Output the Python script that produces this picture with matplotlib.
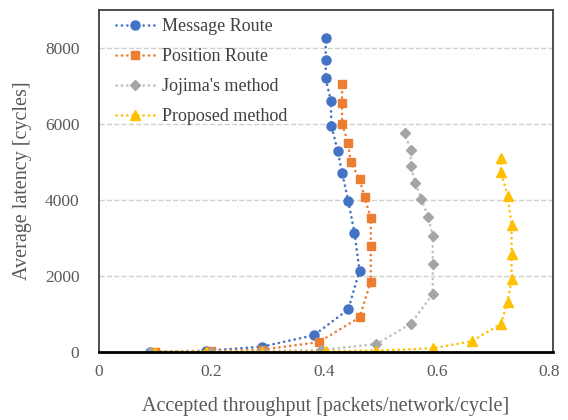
import numpy as np
import matplotlib.pyplot as plt

plt.rcParams['font.family'] = ['Liberation Serif', 'DejaVu Serif']

# accepted throughput [packets/network/cycle] and average latency [cycles]
msgX = [0.09, 0.19, 0.29, 0.382, 0.443, 0.463, 0.454, 0.443, 0.432, 0.424, 0.413, 0.412, 0.403, 0.403, 0.403]
msgY = [10, 30, 140, 440, 1120, 2140, 3140, 3970, 4720, 5300, 5960, 6610, 7200, 7690, 8260]

posX = [0.10, 0.20, 0.29, 0.391, 0.463, 0.483, 0.483, 0.483, 0.472, 0.463, 0.447, 0.443, 0.432, 0.432, 0.432]
posY = [10, 20, 60, 260, 910, 1850, 2790, 3520, 4070, 4550, 5010, 5490, 6000, 6560, 7050]

jojX = [0.09, 0.20, 0.29, 0.394, 0.493, 0.554, 0.593, 0.593, 0.593, 0.585, 0.573, 0.562, 0.554, 0.554, 0.543]
jojY = [10, 10, 20, 50, 210, 740, 1520, 2310, 3050, 3540, 4030, 4440, 4900, 5320, 5760]

propX = [0.10, 0.19, 0.29, 0.403, 0.493, 0.593, 0.662, 0.714, 0.726, 0.733, 0.733, 0.733, 0.726, 0.714, 0.714]
propY = [10, 10, 10, 20, 35, 97, 280, 737, 1324, 1913, 2571, 3342, 4106, 4746, 5098]

fig = plt.figure(figsize=(5.68, 4.2), dpi=100)
ax = fig.add_axes([0.174, 0.162, 0.8, 0.814])

dots = (0, (0.05, 2.0))
ax.plot(msgX, msgY, ls=dots, dash_capstyle='round', color='#4472C4', lw=1.9, marker='o', ms=6.5, label='Message Route')
ax.plot(posX, posY, ls=dots, dash_capstyle='round', color='#ED7D31', lw=1.9, marker='s', ms=6, label='Position Route')
ax.plot(jojX, jojY, ls=dots, dash_capstyle='round', color='#BEBEBE', lw=1.9, marker='D', ms=5,
        mfc='#A5A5A5', mec='#A5A5A5', label="Jojima's method")
ax.plot(propX, propY, ls=dots, dash_capstyle='round', color='#FFC000', lw=1.9, marker='^', ms=7, label='Proposed method')

ax.set_xlim(0, 0.807)
ax.set_ylim(0, 9000)
ax.set_xticks([0, 0.2, 0.4, 0.6, 0.8])
ax.set_xticklabels(['0', '0.2', '0.4', '0.6', '0.8'])
ax.set_yticks([0, 2000, 4000, 6000, 8000])
ax.tick_params(length=0, labelsize=12.5, labelcolor='#595959')
ax.tick_params(axis='y', pad=14)
ax.tick_params(axis='x', pad=9)
ax.grid(axis='y', ls='--', color='#D0D0D0', lw=1)
ax.set_axisbelow(True)

for s in ['top', 'right', 'left']:
    ax.spines[s].set_color('#404040')
    ax.spines[s].set_linewidth(1.3)
ax.spines['bottom'].set_color('black')
ax.spines['bottom'].set_linewidth(2)

ax.set_xlabel('Accepted throughput [packets/network/cycle]', fontsize=14.5, color='#595959', labelpad=12)
ax.set_ylabel('Average latency [cycles]', fontsize=14.5, color='#595959', labelpad=9)

ax.legend(loc='upper left', bbox_to_anchor=(0.022, 0.998), frameon=False, fontsize=13,
          labelcolor='#404040', handlelength=2.1, borderaxespad=0, labelspacing=0.72,
          handletextpad=0.45)

fig.savefig('out.png')
